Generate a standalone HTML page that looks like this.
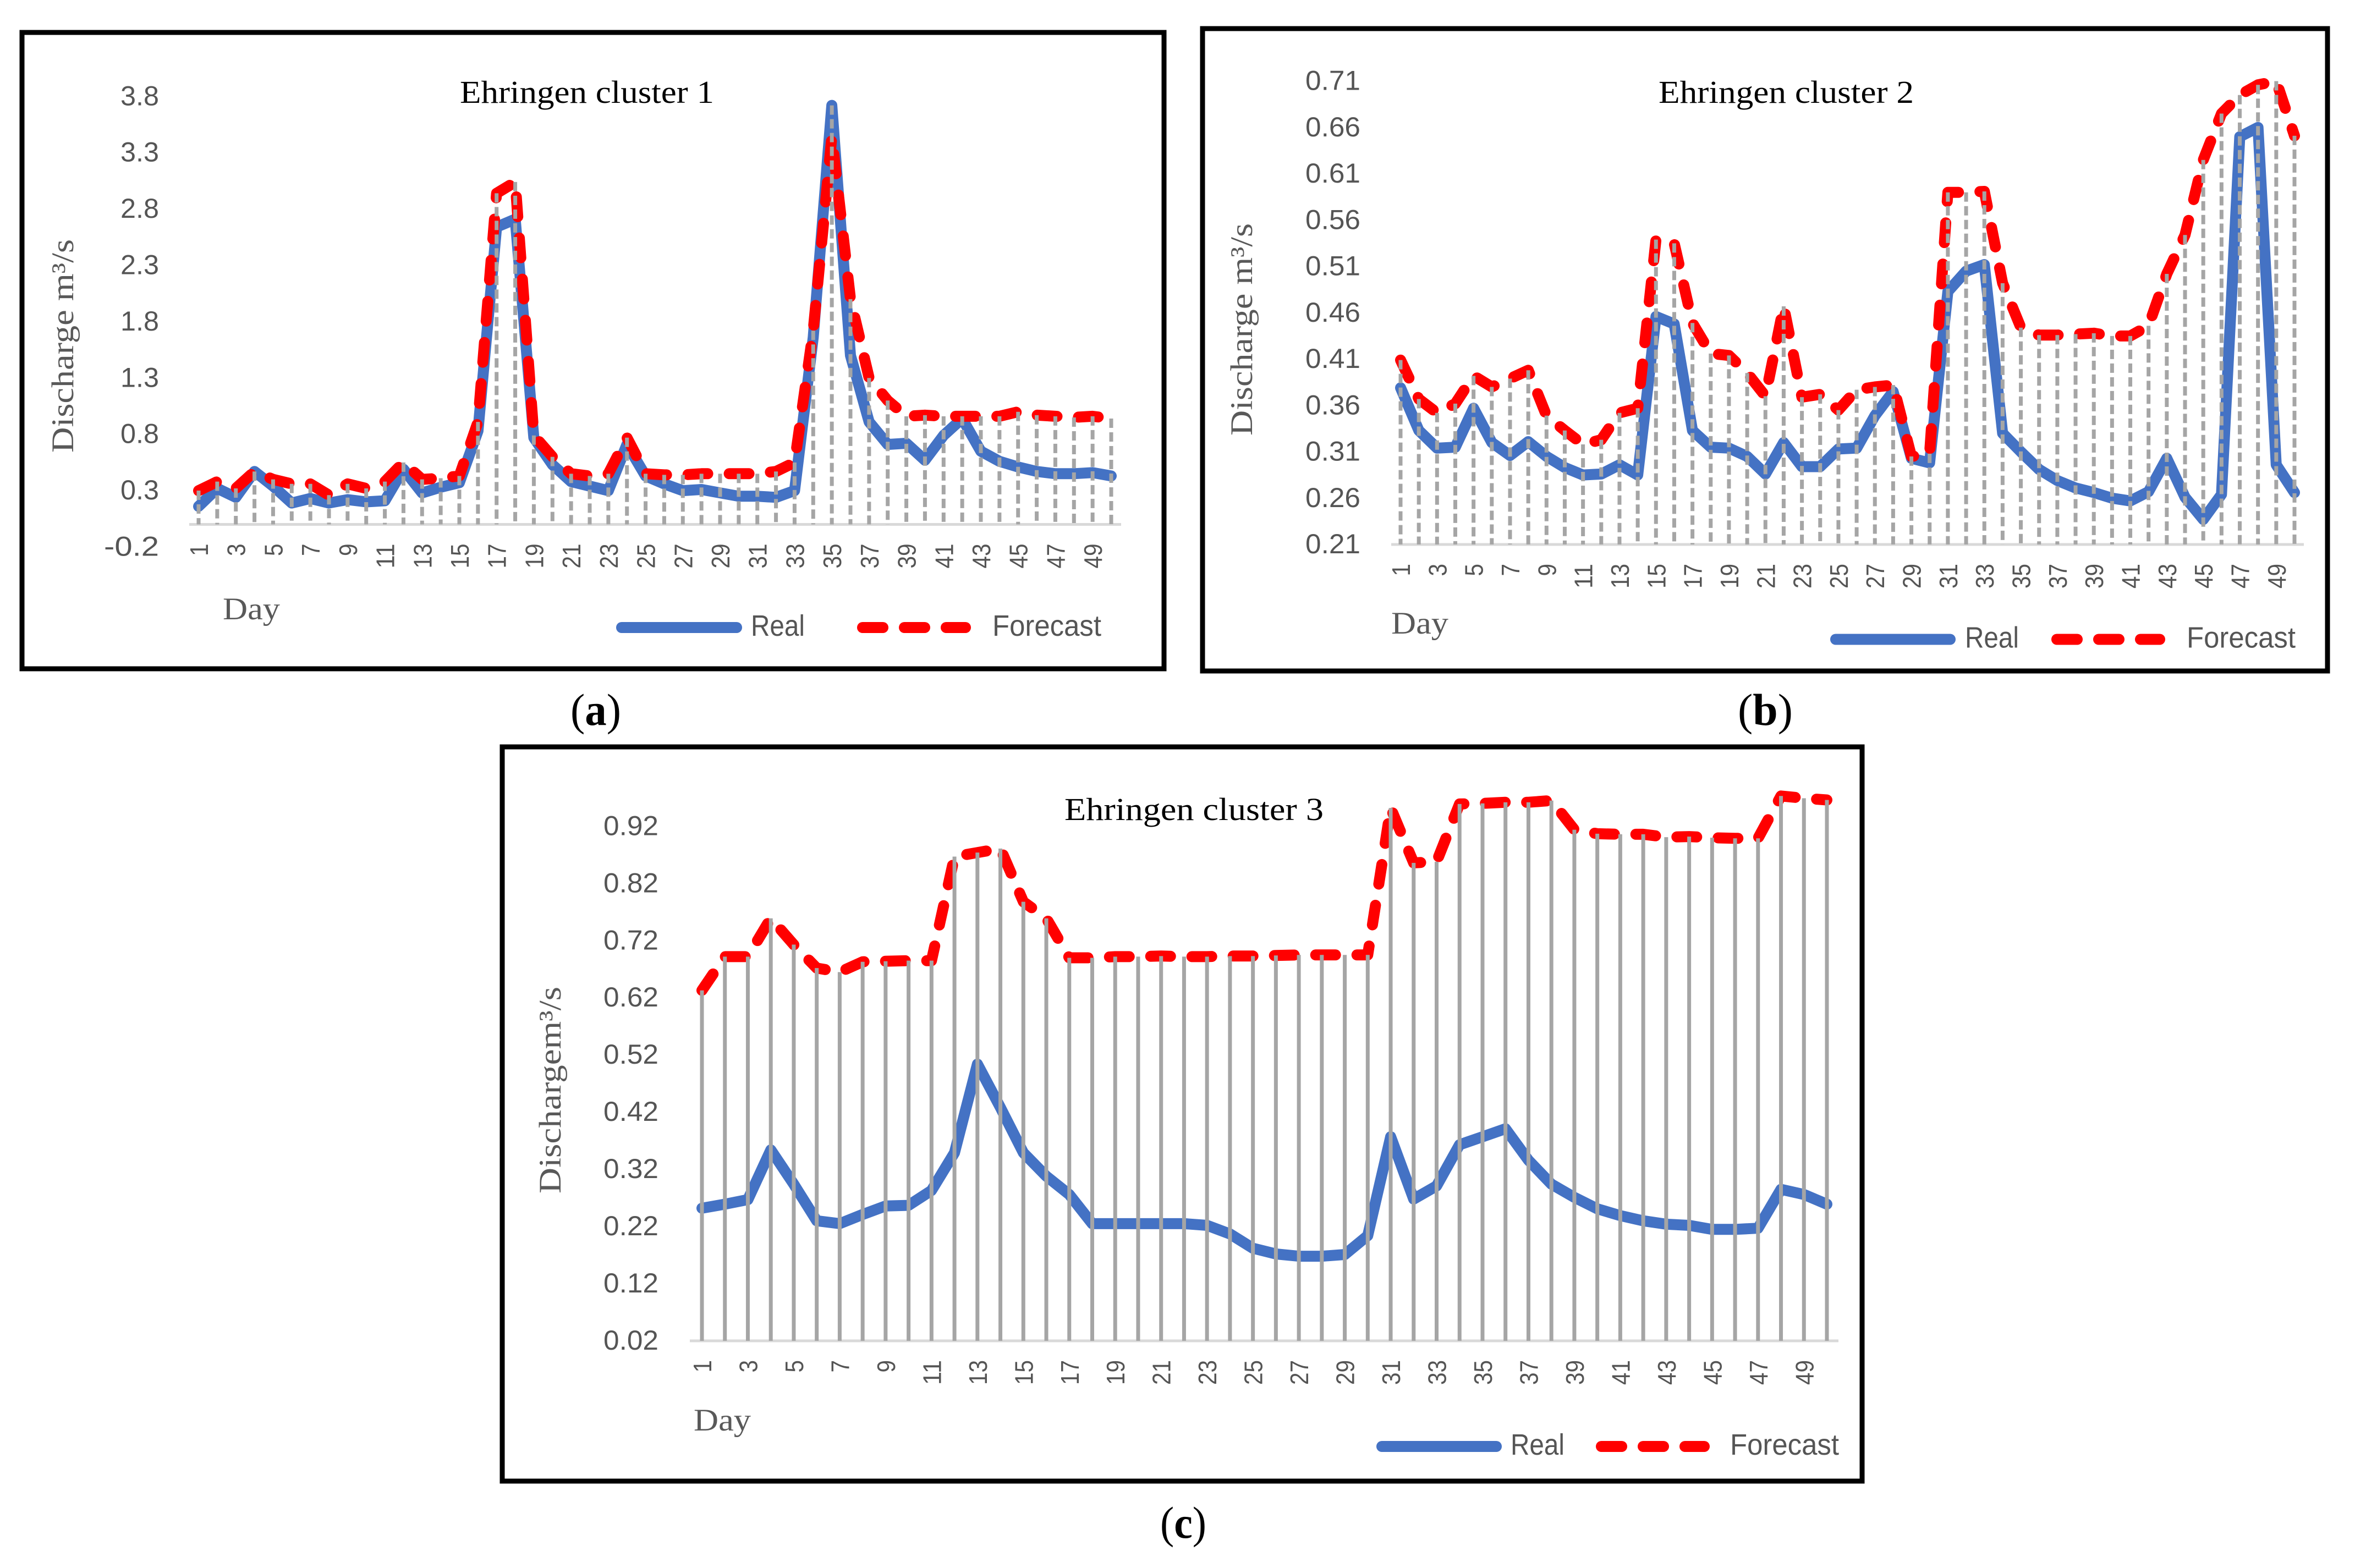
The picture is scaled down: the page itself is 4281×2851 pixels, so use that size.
<!DOCTYPE html>
<html lang="en">
<head>
<meta charset="utf-8">
<title>Ehringen clusters: real vs forecast discharge</title>
<style>
html,body{margin:0;padding:0;background:#fff;width:4281px;height:2851px;overflow:hidden}
svg{display:block}
.serif{font-family:"Liberation Serif",serif}
.sans{font-family:"Liberation Sans",sans-serif}
</style>
</head>
<body>
<svg id="figure" xmlns="http://www.w3.org/2000/svg" width="4281" height="2851" viewBox="0 0 4281 2851">
<rect x="0" y="0" width="4281" height="2851" fill="#fff"/>
<text class="serif" x="1037" y="1318" font-size="82" fill="#000" textLength="92" lengthAdjust="spacingAndGlyphs">(<tspan font-weight="bold">a</tspan>)</text>
<text class="serif" x="3159" y="1318" font-size="82" fill="#000" textLength="100" lengthAdjust="spacingAndGlyphs">(<tspan font-weight="bold">b</tspan>)</text>
<text class="serif" x="2109" y="2796" font-size="82" fill="#000" textLength="84" lengthAdjust="spacingAndGlyphs">(<tspan font-weight="bold">c</tspan>)</text>
</svg>
<script>
const days = [];
for (let d = 1; d <= 50; d++) days.push(d);

const ticksA = ["-0.2","0.3","0.8","1.3","1.8","2.3","2.8","3.3","3.8"];
const realA = [0.16,0.32,0.24,0.47,0.34,0.19,0.23,0.19,0.22,0.20,0.21,0.49,0.28,0.33,0.37,0.83,2.64,2.71,0.77,0.53,0.38,0.34,0.30,0.71,0.43,0.36,0.30,0.31,0.28,0.25,0.25,0.24,0.30,1.66,3.72,1.50,0.91,0.71,0.72,0.57,0.79,0.94,0.65,0.56,0.51,0.47,0.45,0.45,0.46,0.43];
const forecastA = [0.30,0.38,0.32,0.47,0.40,0.36,0.36,0.26,0.36,0.32,0.38,0.55,0.40,0.41,0.43,0.91,2.94,3.04,0.79,0.60,0.45,0.43,0.45,0.77,0.45,0.44,0.44,0.45,0.45,0.45,0.45,0.47,0.55,1.72,3.44,2.00,1.30,1.10,0.96,0.97,0.96,0.96,0.96,0.96,1.00,0.97,0.96,0.95,0.96,0.94];

const ticksB = ["0.21","0.26","0.31","0.36","0.41","0.46","0.51","0.56","0.61","0.66","0.71"];
const realB = [0.379,0.333,0.314,0.315,0.357,0.320,0.306,0.321,0.305,0.293,0.285,0.286,0.296,0.285,0.456,0.448,0.333,0.315,0.314,0.305,0.286,0.320,0.294,0.294,0.313,0.314,0.349,0.375,0.303,0.298,0.483,0.505,0.512,0.330,0.310,0.291,0.279,0.271,0.266,0.260,0.257,0.267,0.303,0.261,0.237,0.264,0.650,0.660,0.296,0.266];
const forecastB = [0.409,0.367,0.352,0.362,0.392,0.380,0.389,0.398,0.349,0.333,0.318,0.323,0.352,0.357,0.539,0.535,0.449,0.416,0.414,0.395,0.370,0.467,0.369,0.372,0.355,0.377,0.380,0.382,0.305,0.308,0.590,0.590,0.591,0.492,0.444,0.436,0.436,0.437,0.438,0.435,0.435,0.446,0.502,0.544,0.625,0.675,0.695,0.706,0.710,0.651];

const ticksC = ["0.02","0.12","0.22","0.32","0.42","0.52","0.62","0.72","0.82","0.92"];
const realC = [0.252,0.259,0.267,0.354,0.294,0.230,0.225,0.241,0.256,0.257,0.283,0.349,0.504,0.428,0.349,0.308,0.276,0.225,0.225,0.225,0.225,0.225,0.222,0.207,0.182,0.172,0.168,0.168,0.171,0.204,0.377,0.268,0.291,0.363,0.377,0.391,0.336,0.294,0.271,0.251,0.239,0.230,0.224,0.222,0.215,0.215,0.217,0.285,0.276,0.259];
const forecastC = [0.633,0.692,0.692,0.759,0.713,0.672,0.665,0.683,0.684,0.685,0.685,0.867,0.874,0.881,0.788,0.759,0.690,0.690,0.692,0.692,0.693,0.692,0.692,0.693,0.693,0.694,0.695,0.695,0.695,0.695,0.952,0.856,0.858,0.959,0.960,0.962,0.962,0.965,0.914,0.907,0.906,0.906,0.901,0.902,0.900,0.899,0.899,0.973,0.969,0.966];

const NS = 'http://www.w3.org/2000/svg';
const svg = document.getElementById('figure');

function mk(parent, tag, attrs, txt) {
  const e = document.createElementNS(NS, tag);
  for (const k in attrs) e.setAttribute(k, attrs[k]);
  if (txt !== undefined) e.textContent = txt;
  parent.appendChild(e);
  return e;
}

function drawChart(o) {
  const g = mk(svg, 'g', {});
  
  

  const xAt = d => o.x1 + (d - 1) * (o.x50 - o.x1) / 49;
  const yAt = v => o.axisY - (v - o.base) * o.pxPerUnit;
  const poly = arr => arr.map((v, i) => xAt(days[i]).toFixed(1) + ',' + yAt(v).toFixed(1)).join(' ');

  const frame = mk(g, 'rect', {x:o.fx, y:o.fy, width:o.fw, height:o.fh, fill:'#fff', stroke:'#000', 'stroke-width':9});
  
  

  const title = mk(g, 'text', {x:o.tx, y:o.ty, 'font-size':58, fill:'#000', 'class':'serif', textLength:o.tw, lengthAdjust:'spacingAndGlyphs', 'xml:space':'preserve'}, o.title);
  
  

  const yTitle = mk(g, 'text', {transform:'translate(' + o.ylx + ' ' + o.yly + ') rotate(-90)', 'font-size':57, fill:'#595959', 'class':'serif', textLength:o.ylw, lengthAdjust:'spacingAndGlyphs'}, o.ylabel);
  
  

  const xTitle = mk(g, 'text', {x:o.dx, y:o.dy, 'font-size':57, fill:'#595959', 'class':'serif', textLength:104, lengthAdjust:'spacingAndGlyphs'}, 'Day');
  
  

  o.ticks.forEach(t => {
    const label = mk(g, 'text', {x:o.tickRight, y:yAt(parseFloat(t)) + 16, 'font-size':50, fill:'#555', 'class':'sans', 'text-anchor':'end', textLength:(t.length - 1) * 30 + 10, lengthAdjust:'spacingAndGlyphs'}, t);
    
    
  });

  const axis = mk(g, 'line', {x1:o.ax0, x2:o.ax1, y1:o.axisY, y2:o.axisY, stroke:'#D9D9D9', 'stroke-width':5});
  
  

  days.forEach(d => {
    if (d % 2 === 1) {
      const px = xAt(d) + 17;
      const py = o.axisY + 35;
      const label = mk(g, 'text', {transform:'translate(' + px.toFixed(1) + ' ' + py + ') rotate(-90)', 'font-size':46, fill:'#555', 'class':'sans', 'text-anchor':'end', textLength:String(d).length * 22.5, lengthAdjust:'spacingAndGlyphs'}, String(d));
      
      
    }
  });

  const realLine = mk(g, 'polyline', {points:poly(o.real), fill:'none', stroke:'#4472C4', 'stroke-width':20, 'stroke-linecap':'round', 'stroke-linejoin':'round'});
  
  

  const fcLine = mk(g, 'polyline', {points:poly(o.forecast), fill:'none', stroke:'#FF0000', 'stroke-width':20, 'stroke-linecap':'round', 'stroke-linejoin':'round', 'stroke-dasharray':'36 39'});
  
  

  days.forEach((d, i) => {
    const top = Math.max(o.real[i], o.forecast[i]);
    const drop = mk(g, 'line', {x1:xAt(d), x2:xAt(d), y1:yAt(top), y2:o.axisY, stroke:'#A5A5A5', 'stroke-width':7, 'stroke-dasharray':o.dropDash});
    
    
  });

  const legReal = mk(g, 'line', {x1:o.lr0 + 10, x2:o.lr1 - 10, y1:o.ly, y2:o.ly, stroke:'#4472C4', 'stroke-width':20, 'stroke-linecap':'round'});
  
  

  const legRealText = mk(g, 'text', {x:o.lrt, y:o.ly + 15, 'font-size':54, fill:'#555', 'class':'sans', textLength:98, lengthAdjust:'spacingAndGlyphs'}, 'Real');
  
  

  const legFc = mk(g, 'line', {x1:o.lf0 + 10, x2:o.lf0 + 197, y1:o.ly, y2:o.ly, stroke:'#FF0000', 'stroke-width':20, 'stroke-linecap':'round', 'stroke-dasharray':'37 39'});
  
  

  const legFcText = mk(g, 'text', {x:o.lft, y:o.ly + 15, 'font-size':54, fill:'#555', 'class':'sans', textLength:198, lengthAdjust:'spacingAndGlyphs'}, 'Forecast');
  
  
}

drawChart({id:'a', title:'Ehringen cluster 1', ylabel:'Discharge m³/s', ticks:ticksA, real:realA, forecast:forecastA,
  fx:40, fy:59, fw:2076, fh:1157, tx:836, ty:187, tw:462, ylx:133, yly:823, ylw:388, dx:405, dy:1126,
  x1:361, x50:2020, ax0:344, ax1:2038, axisY:953.5, base:0, pxPerUnit:204.8, tickRight:289, dropDash:'17 8',
  lr0:1120, lr1:1349, ly:1141, lrt:1365, lf0:1558, lft:1804});

drawChart({id:'b', title:'Ehringen cluster 2', ylabel:'Discharge m³/s', ticks:ticksB, real:realB, forecast:forecastB,
  fx:2186, fy:52, fw:2045, fh:1168, tx:3015, ty:187, tw:464, ylx:2276, yly:792, ylw:386, dx:2529, dy:1152,
  x1:2546, x50:4171, ax0:2529, ax1:4188, axisY:990, base:0.21, pxPerUnit:1685, tickRight:2473, dropDash:'17 8',
  lr0:3327, lr1:3555, ly:1162.5, lrt:3572, lf0:3729, lft:3975});

drawChart({id:'c', title:'Ehringen  cluster 3', ylabel:'Dischargem³/s', ticks:ticksC, real:realC, forecast:forecastC,
  fx:913, fy:1358, fw:2472, fh:1335, tx:1935, ty:1491, tw:471, ylx:1019, yly:2170, ylw:376, dx:1261, dy:2601,
  x1:1276, x50:3321, ax0:1254, ax1:3342, axisY:2438, base:0.02, pxPerUnit:1039.6, tickRight:1197, dropDash:'none',
  lr0:2502, lr1:2730, ly:2630, lrt:2746, lf0:2901, lft:3145});
</script>
</body>
</html>
